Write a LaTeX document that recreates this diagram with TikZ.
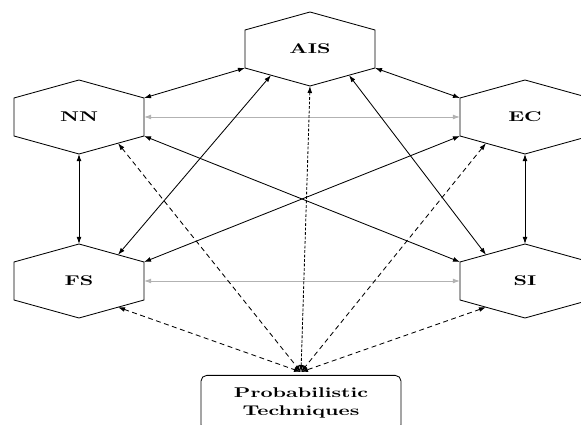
\documentclass[tikz,border=0pt]{standalone}
\usepackage{xcolor}
\usepackage{tikz}
\usetikzlibrary{arrows.meta,calc}

\newcommand{\wider}[1]{\scalebox{1.5}[1]{#1}}
% hexagon: name, x, y, label
\newcommand{\hexa}[4]{%
	\coordinate (#1-n)  at (#2,#3-37);
	\coordinate (#1-ne) at (#2+65,#3-19);
	\coordinate (#1-se) at (#2+65,#3+19);
	\coordinate (#1-s)  at (#2,#3+37);
	\coordinate (#1-sw) at (#2-65,#3+19);
	\coordinate (#1-nw) at (#2-65,#3-19);
	\draw[hexline] (#1-n) -- (#1-ne) -- (#1-se) -- (#1-s) -- (#1-sw) -- (#1-nw) -- cycle;
	\node[hexlabel] (#1) at (#2,#3) {\wider{#4}};
}

\begin{document}
\begin{tikzpicture}[x=0.025cm, y=-0.025cm,
		>={Latex[length=5pt,width=3.4pt]},
		hexline/.style={line width=0.6pt},
		hexlabel/.style={font=\bfseries},
		link/.style={<->, line width=0.6pt},
		greylink/.style={<->, line width=0.6pt, gray!60},
		problink/.style={<->, line width=0.6pt, dash pattern=on 3.5pt off 2.5pt},
		aislink/.style={<->, line width=0.6pt, dash pattern=on 2pt off 1.2pt}]
			\clip (0,0) rectangle (581,425);
			%\draw[help lines] (0,0) grid[step=50] (581,425);
			\hexa{ais}{310}{49}{AIS}
			\hexa{nn}{79}{117}{NN}
			\hexa{ec}{525}{117}{EC}
			\hexa{fs}{79}{281}{FS}
			\hexa{si}{525}{281}{SI}
			\node[draw, rounded corners=4pt, line width=0.6pt, minimum width=200*0.025cm, minimum height=55*0.025cm, font=\bfseries, align=center, inner sep=2pt, anchor=north] (pt) at (301,375) {\wider{Probabilistic}\\[1pt]\wider{Techniques}};
			\coordinate (ptin) at ($(pt.north)+(0,-3)$);

			% outer ring
			\draw[link] (nn-ne) -- (ais-sw);
			\draw[link] (ais-se) -- (ec-nw);
			\draw[link] (nn-s) -- (fs-n);
			\draw[link] (ec-s) -- (si-n);
			\draw[greylink] (nn-ne |- nn) -- (ec-nw |- ec);
			\draw[greylink] (fs-ne |- fs) -- (si-nw |- si);

			% crossing links
			\draw[link] (fs-ne) -- (ec-sw);
			\draw[link] (nn-se) -- (si-nw);
			\draw[link] ($(fs-n)!0.6!(fs-ne)$) -- ($(ais-sw)!0.4!(ais-s)$);
			\draw[link] ($(ais-s)!0.6!(ais-se)$) -- ($(si-nw)!0.4!(si-n)$);

			% to probabilistic techniques
			\draw[aislink] (ais-s) -- (ptin);
			\draw[problink] ($(nn-s)!0.6!(nn-se)$) -- (ptin);
			\draw[problink] ($(ec-sw)!0.4!(ec-s)$) -- (ptin);
			\draw[problink] ($(fs-s)!0.6!(fs-se)$) -- (ptin);
			\draw[problink] ($(si-sw)!0.4!(si-s)$) -- (ptin);
		\end{tikzpicture}
\end{document}
